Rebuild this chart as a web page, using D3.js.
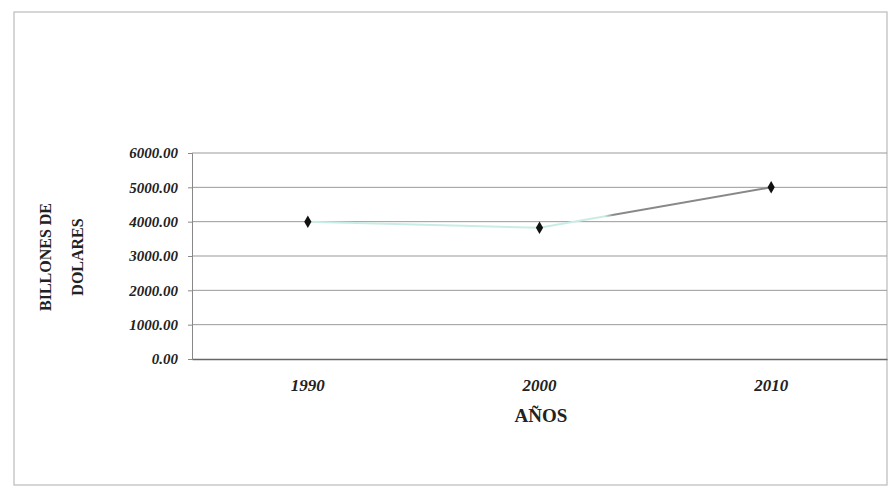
<!DOCTYPE html>
<html>
<head>
<meta charset="utf-8">
<script src="https://cdn.jsdelivr.net/npm/d3@7"></script>
<style>
	body{margin:0;background:#fff;}
	.tick text{font-family:"Times New Roman","Liberation Serif","DejaVu Serif",serif;font-weight:bold;font-style:italic;font-size:15px;fill:#222;}
	.axisTitle{font-family:"Times New Roman","Liberation Serif","DejaVu Serif",serif;font-weight:bold;font-size:16px;fill:#222;}
</style>
</head>
<body>
<script>
//chart data
var years = ["1990", "2000", "2010"];
var billones = [4000, 3820, 5000];
var yTicks = [0, 1000, 2000, 3000, 4000, 5000, 6000];

//frame dimensions
var width = 889,
	height = 490,
	plotLeft = 192,
	plotRight = 887,
	plotTop = 153,
	plotBottom = 359;

var svg = d3.select("body")
	.append("svg")
	.attr("width", width)
	.attr("height", height);

//outer chart border
svg.append("rect")
	.attr("x", 14)
	.attr("y", 12)
	.attr("width", 873)
	.attr("height", 473)
	.attr("fill", "none")
	.attr("stroke", "#bbb")
	.attr("stroke-width", 1.2);

//scales
var x = d3.scaleBand()
	.domain(years)
	.range([plotLeft, plotRight]);

var y = d3.scaleLinear()
	.domain([0, 6000])
	.range([plotBottom, plotTop]);

//gridlines
svg.selectAll(".grid")
	.data(yTicks.slice(1))
	.enter()
	.append("line")
	.attr("class", "grid")
	.attr("x1", plotLeft)
	.attr("x2", plotRight)
	.attr("y1", function(d){ return y(d); })
	.attr("y2", function(d){ return y(d); })
	.attr("stroke", "#999")
	.attr("stroke-width", 1);

//y axis
var yAxis = svg.append("g")
	.attr("transform", "translate(" + plotLeft + ",0)")
	.call(d3.axisLeft(y)
		.tickValues(yTicks)
		.tickSize(4)
		.tickPadding(10)
		.tickFormat(d3.format(".2f")));
yAxis.select(".domain").attr("stroke", "#888");
yAxis.selectAll(".tick line").attr("stroke", "#888");

//x axis
var xAxis = svg.append("g")
	.attr("transform", "translate(0," + plotBottom + ")")
	.call(d3.axisBottom(x).tickSize(0).tickPadding(20));
xAxis.select(".domain").attr("stroke", "#666").attr("stroke-width", 1.5);
xAxis.selectAll(".tick text").style("font-size", "17px");

//line gradient: light cyan then grey
var grad = svg.append("defs").append("linearGradient")
	.attr("id", "lineGrad")
	.attr("gradientUnits", "userSpaceOnUse")
	.attr("x1", x("1990") + x.bandwidth() / 2)
	.attr("x2", x("2010") + x.bandwidth() / 2)
	.attr("y1", 0).attr("y2", 0);
grad.append("stop").attr("offset", "0%").attr("stop-color", "#c8ede4");
grad.append("stop").attr("offset", "64%").attr("stop-color", "#c8ede4");
grad.append("stop").attr("offset", "66%").attr("stop-color", "#888");
grad.append("stop").attr("offset", "100%").attr("stop-color", "#888");

var line = d3.line()
	.x(function(d, i){ return x(years[i]) + x.bandwidth() / 2; })
	.y(function(d){ return y(d); });

svg.append("path")
	.datum(billones)
	.attr("d", line)
	.attr("fill", "none")
	.attr("stroke", "url(#lineGrad)")
	.attr("stroke-width", 2);

//diamond markers
svg.selectAll(".pt")
	.data(billones)
	.enter()
	.append("path")
	.attr("class", "pt")
	.attr("d", d3.symbol().type(d3.symbolDiamond).size(45))
	.attr("transform", function(d, i){
		return "translate(" + (x(years[i]) + x.bandwidth() / 2) + "," + y(d) + ")";
	})
	.attr("fill", "#111");

//axis titles
svg.append("text")
	.attr("class", "axisTitle")
	.attr("x", 541)
	.attr("y", 422)
	.attr("text-anchor", "middle")
	.style("font-size", "19px")
	.text("AÑOS");

svg.append("text")
	.attr("class", "axisTitle")
	.attr("transform", "translate(51,257) rotate(-90)")
	.attr("text-anchor", "middle")
	.text("BILLONES DE");

svg.append("text")
	.attr("class", "axisTitle")
	.attr("transform", "translate(83,257) rotate(-90)")
	.attr("text-anchor", "middle")
	.text("DOLARES");
</script>
</body>
</html>
